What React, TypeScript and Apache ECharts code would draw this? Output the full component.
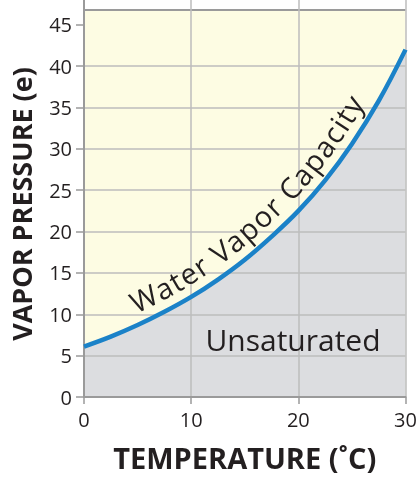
import React, { useEffect, useRef } from "react";
import * as echarts from "echarts";

const temperatures = [0, 2.5, 5, 7.5, 10, 12.5, 15, 17.5, 20, 22.5, 25, 27.5, 30];
const vaporPressure = [6.1, 7.3, 8.7, 10.3, 12.1, 14.2, 16.6, 19.4, 22.5, 26.2, 30.6, 35.8, 42.0];
const yTicks = [0, 5, 10, 15, 20, 25, 30, 35, 40, 45];
const capacityLabel = "Water Vapor Capacity";
const regionLabel = "Unsaturated";
const yTitle = "VAPOR PRESSURE (e)";
const xTitle = "TEMPERATURE (˚C)";
const plotCeiling = 46.8;

const FONT = '"Open Sans", "Noto Sans", sans-serif';
const INK = "#231f20";

// catmull-rom through pixel points, just to lay letters along the curve
function sampleCurve(pts: number[][], steps = 30) {
  const out: number[][] = [];
  for (let i = 0; i < pts.length - 1; i++) {
    const p0 = pts[Math.max(i - 1, 0)];
    const p1 = pts[i];
    const p2 = pts[i + 1];
    const p3 = pts[Math.min(i + 2, pts.length - 1)];
    for (let s = 0; s < steps; s++) {
      const t = s / steps;
      const t2 = t * t;
      const t3 = t2 * t;
      const f = (a: number, b: number, c: number, d: number) =>
        0.5 * (2 * b + (-a + c) * t + (2 * a - 5 * b + 4 * c - d) * t2 + (-a + 3 * b - 3 * c + d) * t3);
      out.push([f(p0[0], p1[0], p2[0], p3[0]), f(p0[1], p1[1], p2[1], p3[1])]);
    }
  }
  out.push(pts[pts.length - 1]);
  return out;
}

const App: React.FC = () => {
  const chartRef = useRef<HTMLDivElement>(null);

  useEffect(() => {
    if (!chartRef.current) return;
    const chart = echarts.init(chartRef.current, undefined, { renderer: "svg" });
    const curve = temperatures.map((t, i) => [t, vaporPressure[i]]);

    chart.setOption({
      animation: false,
      grid: { left: 84, right: 11.5, top: 0, bottom: 81, outerBoundsMode: "none" },
      xAxis: {
        type: "value",
        min: 0,
        max: 30,
        interval: 10,
        z: 2,
        axisLine: { lineStyle: { color: "#9a9a9a", width: 2 } },
        axisTick: { length: 7, lineStyle: { color: "#9a9a9a", width: 1.5 } },
        axisLabel: { color: INK, fontSize: 20, fontFamily: FONT, margin: 12 },
        splitLine: { lineStyle: { color: "#bdbdbd", width: 1.5 } },
        name: xTitle,
        nameLocation: "middle",
        nameGap: 46,
        nameTextStyle: { color: INK, fontSize: 29, fontWeight: "bold", fontFamily: FONT },
      },
      yAxis: {
        type: "value",
        min: 0,
        max: 48,
        interval: 5,
        z: 2,
        axisLine: { show: true, lineStyle: { color: "#9a9a9a", width: 2 } },
        axisTick: { show: true, length: 8, customValues: yTicks, lineStyle: { color: "#9a9a9a", width: 1.5 } },
        axisLabel: {
          color: INK,
          fontSize: 20,
          fontFamily: FONT,
          margin: 12,
          customValues: yTicks,
        },
        splitLine: { showMaxLine: false, lineStyle: { color: "#bdbdbd", width: 1.5 } },
      },
      series: [
        {
          type: "line",
          data: temperatures.map((t) => [t, plotCeiling]),
          symbol: "none",
          z: 1,
          lineStyle: { color: "#9a9a9a", width: 2 },
          areaStyle: { color: "#fdfce3", opacity: 1 },
          silent: true,
        },
        {
          type: "line",
          data: curve,
          smooth: 0.4,
          symbol: "none",
          z: 1,
          lineStyle: { width: 0 },
          areaStyle: { color: "#dcdde0", opacity: 1 },
          silent: true,
        },
        {
          type: "line",
          data: curve,
          smooth: 0.4,
          symbol: "none",
          z: 3,
          lineStyle: { color: "#1b82c8", width: 4.5 },
        },
      ],
    });

    // letters of the curve label, placed along the line
    const px = curve.map((p) => chart.convertToPixel({ gridIndex: 0 }, p) as number[]);
    const pts = sampleCurve(px);
    const acc: number[] = [0];
    for (let i = 1; i < pts.length; i++) {
      acc.push(acc[i - 1] + Math.hypot(pts[i][0] - pts[i - 1][0], pts[i][1] - pts[i - 1][1]));
    }
    const startX = (chart.convertToPixel({ gridIndex: 0 }, [5.3, 0]) as number[])[0];
    let startIdx = pts.findIndex((p) => p[0] >= startX);
    if (startIdx < 0) startIdx = 0;
    const at = (s: number) => {
      let i = 1;
      while (i < acc.length - 1 && acc[i] < s) i++;
      const a = pts[i - 1];
      const b = pts[i];
      const seg = acc[i] - acc[i - 1] || 1;
      const k = Math.min(Math.max((s - acc[i - 1]) / seg, 0), 1);
      const ang = Math.atan2(b[1] - a[1], b[0] - a[0]);
      return { x: a[0] + (b[0] - a[0]) * k, y: a[1] + (b[1] - a[1]) * k, ang };
    };

    const fontSize = 29;
    const spacing = 1.6;
    const ctx = document.createElement("canvas").getContext("2d")!;
    ctx.font = `${fontSize}px ${FONT}`;
    const offset = 22;
    let s = acc[startIdx];
    const letters: any[] = [];
    for (const ch of capacityLabel) {
      const w = ctx.measureText(ch).width;
      const p = at(s + w / 2);
      const nx = Math.sin(p.ang);
      const ny = -Math.cos(p.ang);
      letters.push({
        type: "text",
        x: p.x + nx * offset,
        y: p.y + ny * offset,
        rotation: -p.ang,
        z: 10,
        style: {
          text: ch,
          fill: INK,
          font: `${fontSize}px ${FONT}`,
          align: "center",
          verticalAlign: "middle",
        },
      });
      s += w + spacing;
    }

    const region = chart.convertToPixel({ gridIndex: 0 }, [19.5, 6.9]) as number[];
    chart.setOption({
      graphic: [
        ...letters,
        {
          type: "text",
          x: region[0],
          y: region[1],
          z: 10,
          style: {
            text: regionLabel,
            fill: INK,
            font: `30px ${FONT}`,
            align: "center",
            verticalAlign: "middle",
          },
        },
        {
          type: "text",
          x: 21,
          y: 204,
          rotation: Math.PI / 2,
          z: 10,
          style: {
            text: yTitle,
            fill: INK,
            font: `bold 27px ${FONT}`,
            align: "center",
            verticalAlign: "middle",
          },
        },
      ],
    });

    return () => chart.dispose();
  }, []);

  return (
    <div
      ref={chartRef}
      style={{ position: "fixed", left: 0, top: 0, width: 417, height: 478 }}
    />
  );
};

export default App;
